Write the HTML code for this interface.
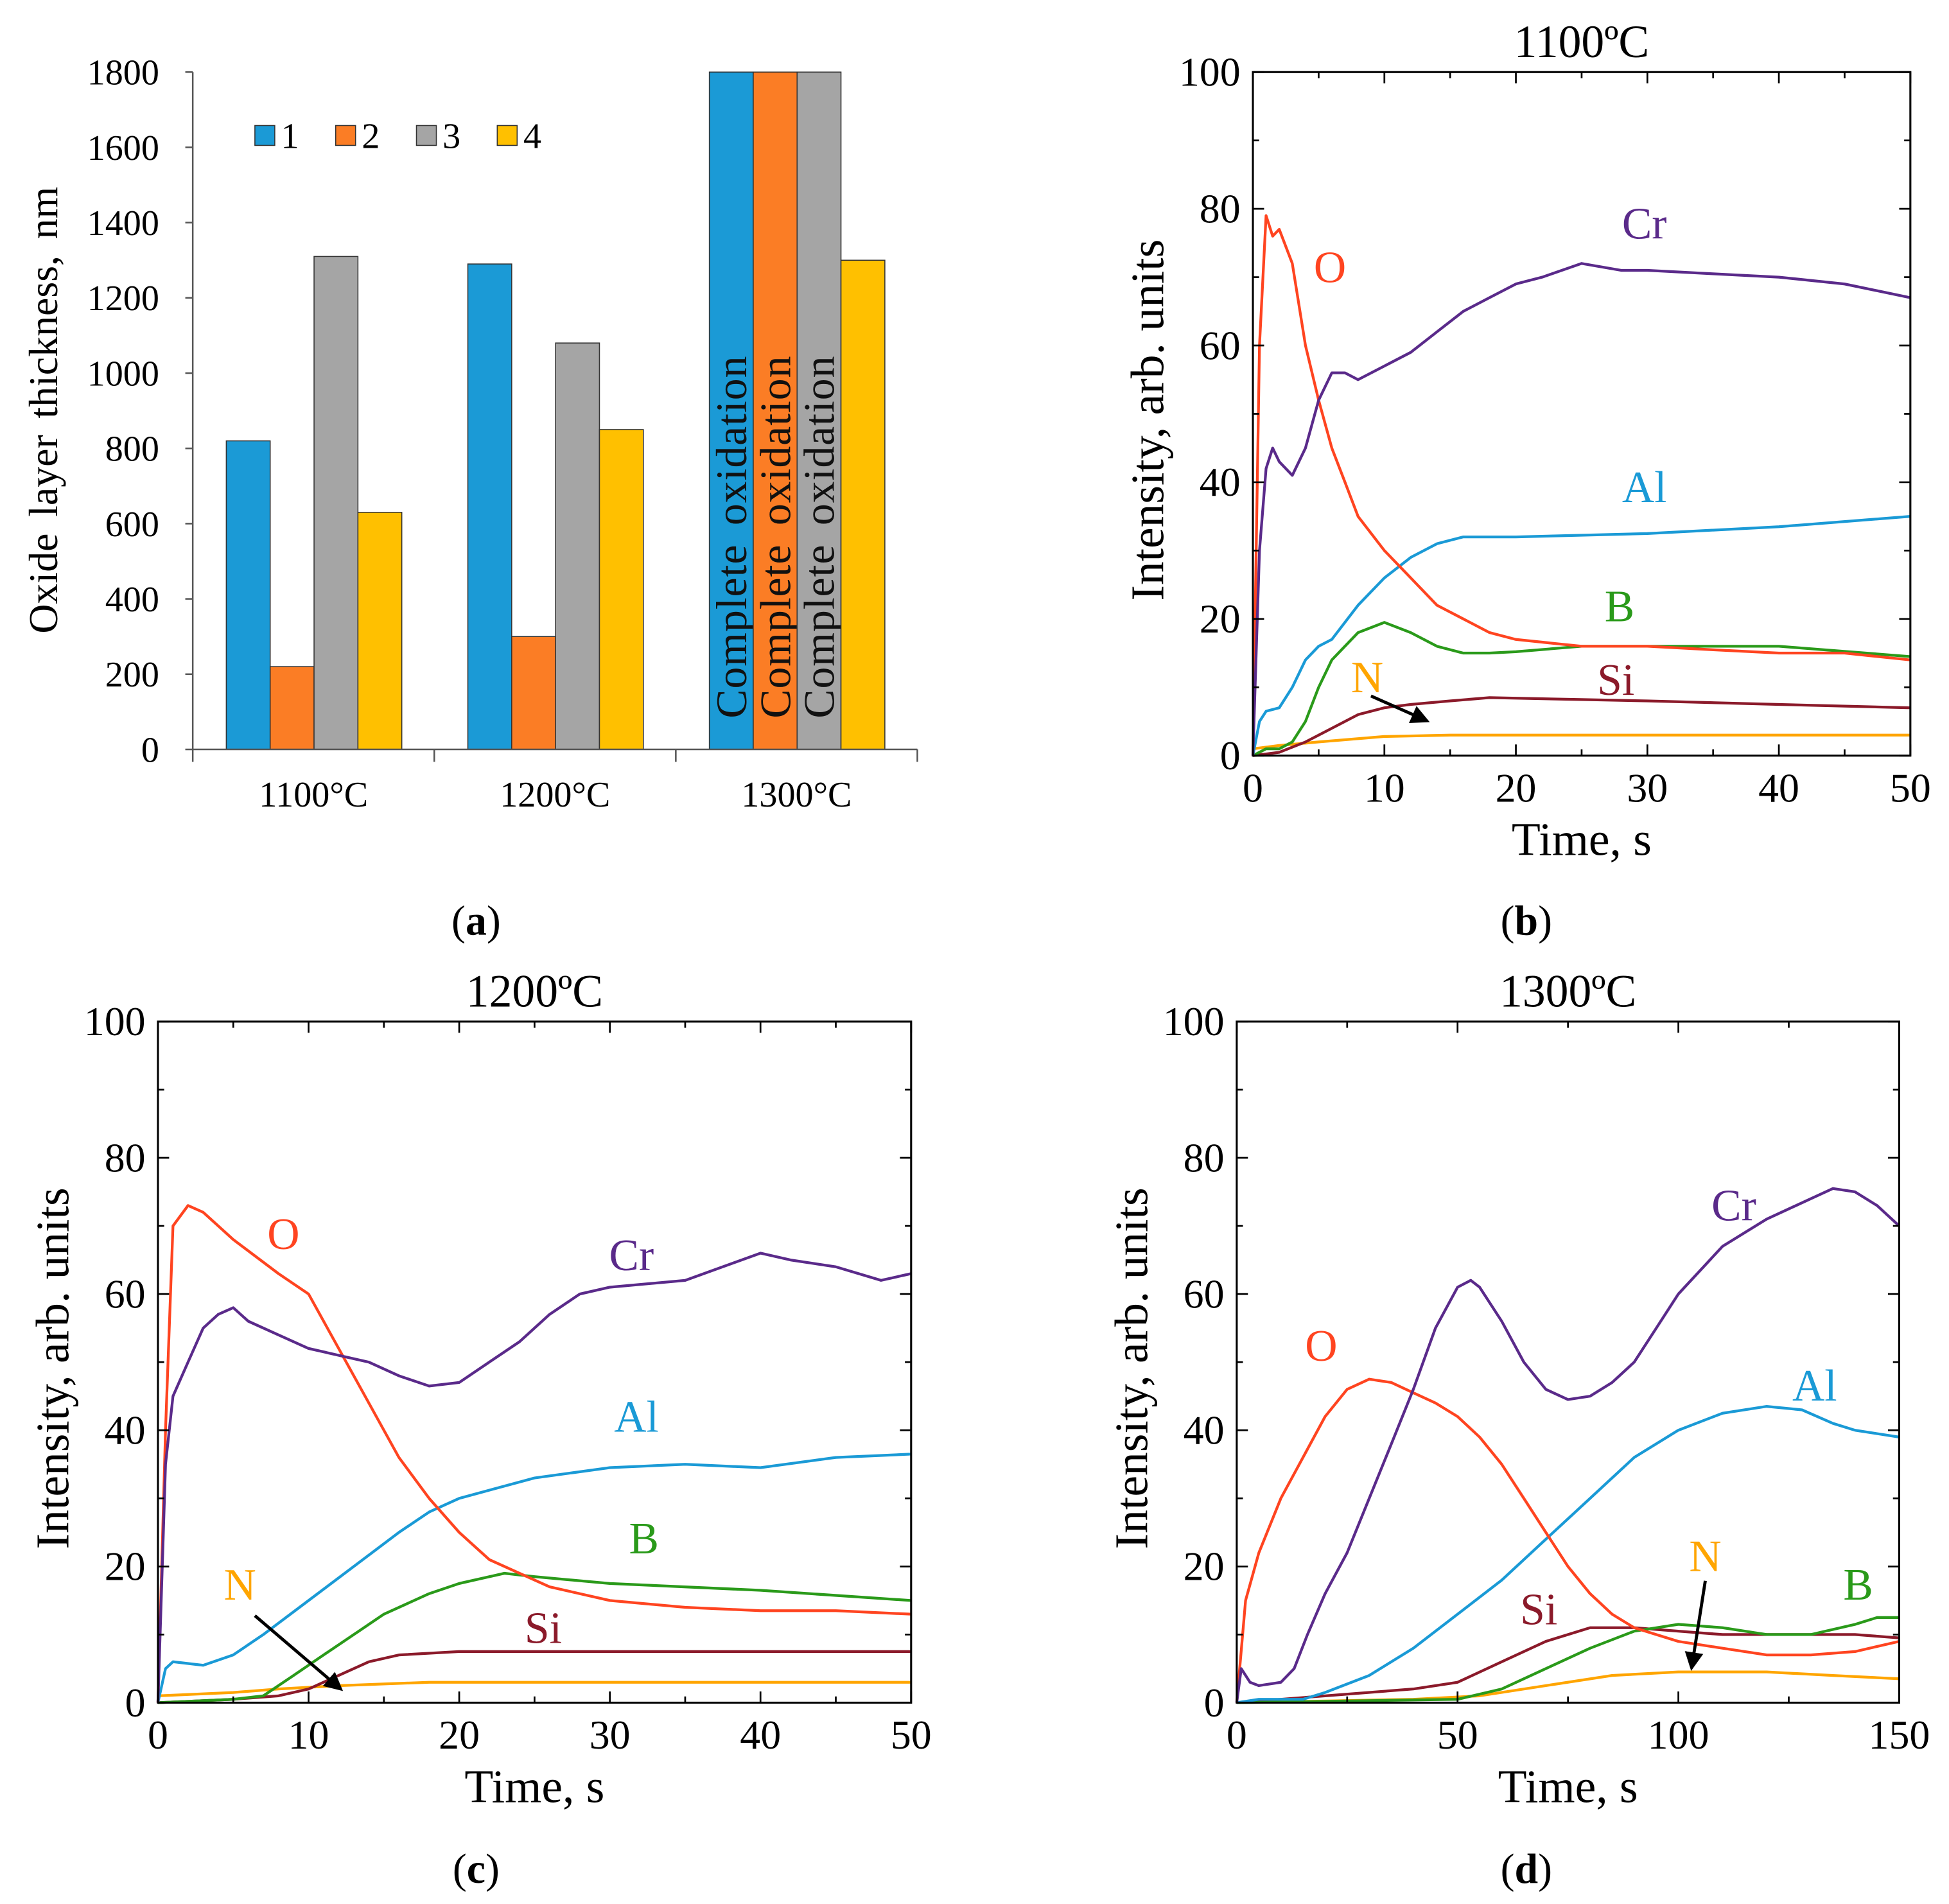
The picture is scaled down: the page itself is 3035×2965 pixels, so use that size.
<!DOCTYPE html>
<html><head><meta charset="utf-8"><style>
html,body{margin:0;padding:0;background:#fff;}
svg{display:block;font-family:"Liberation Serif",serif;}
</style></head><body>
<svg id="fig" width="3035" height="2965" viewBox="0 0 1568 1532" xmlns="http://www.w3.org/2000/svg"></svg>
<script>
// ---- Panel (a) data ----
const barCategories = ["1100°C","1200°C","1300°C"];
const barSeriesNames = ["1","2","3","4"];
const barValues = [[820,220,1310,630],[1290,300,1080,850],[1800,1800,1800,1300]];
const barYTicks = [0,200,400,600,800,1000,1200,1400,1600,1800];
const barNotes = [[null,null,null,null],[null,null,null,null],["Complete oxidation","Complete oxidation","Complete oxidation",null]];

// ---- Line panels data ----
const seriesNames = ["O","Cr","Al","B","Si","N"];
const b_O=[[0,0],[0.5,60],[1,79],[1.5,76],[2,77],[3,72],[4,60],[5,52],[6,45],[7,40],[8,35],[10,30],[12,26],[14,22],[16,20],[18,18],[20,17],[25,16],[30,16],[35,15.5],[40,15],[45,15],[50,14]];
const b_Cr=[[0,0],[0.5,30],[1,42],[1.5,45],[2,43],[3,41],[4,45],[5,52],[6,56],[7,56],[8,55],[9,56],[10,57],[12,59],[14,62],[16,65],[18,67],[20,69],[22,70],[25,72],[28,71],[30,71],[35,70.5],[40,70],[45,69],[50,67]];
const b_Al=[[0,0],[0.5,5],[1,6.5],[2,7],[3,10],[4,14],[5,16],[6,17],[8,22],[10,26],[12,29],[14,31],[16,32],[20,32],[30,32.5],[40,33.5],[50,35]];
const b_B=[[0,0],[1,1],[2,1],[3,2],[4,5],[5,10],[6,14],[8,18],[10,19.5],[12,18],[14,16],[16,15],[18,15],[20,15.2],[25,16],[30,16],[40,16],[50,14.5]];
const b_Si=[[0,0],[2,0.5],[4,2],[6,4],[8,6],[10,7],[12,7.5],[15,8],[18,8.5],[25,8.2],[30,8],[40,7.5],[50,7]];
const b_N=[[0,1],[2,1.5],[5,2],[10,2.8],[15,3],[20,3],[50,3]];

const c_O=[[0,0],[0.5,40],[1,70],[2,73],[3,72],[5,68],[8,63],[10,60],[12,52],[14,44],[16,36],[18,30],[20,25],[22,21],[24,19],[26,17],[30,15],[35,14],[40,13.5],[45,13.5],[50,13]];
const c_Cr=[[0,0],[0.5,35],[1,45],[2,50],[3,55],[4,57],[5,58],[6,56],[8,54],[10,52],[12,51],[14,50],[16,48],[18,46.5],[20,47],[22,50],[24,53],[26,57],[28,60],[30,61],[35,62],[40,66],[42,65],[45,64],[48,62],[50,63]];
const c_Al=[[0,0],[0.5,5],[1,6],[3,5.5],[5,7],[7,10],[10,15],[13,20],[16,25],[18,28],[20,30],[25,33],[30,34.5],[35,35],[40,34.5],[45,36],[50,36.5]];
const c_B=[[0,0],[5,0.5],[7,1],[9,4],[11,7],[13,10],[15,13],[18,16],[20,17.5],[23,19],[25,18.5],[30,17.5],[40,16.5],[50,15]];
const c_Si=[[0,0],[5,0.5],[8,1],[10,2],[12,4],[14,6],[16,7],[20,7.5],[30,7.5],[40,7.5],[50,7.5]];
const c_N=[[0,1],[5,1.5],[8,2],[12,2.5],[18,3],[30,3],[50,3]];

const d_O=[[0,0],[2,15],[5,22],[10,30],[15,36],[20,42],[25,46],[30,47.5],[35,47],[40,45.5],[45,44],[50,42],[55,39],[60,35],[65,30],[70,25],[75,20],[80,16],[85,13],[90,11],[100,9],[110,8],[120,7],[130,7],[140,7.5],[150,9]];
const d_Cr=[[0,0],[1,5],[3,3],[5,2.5],[10,3],[13,5],[16,10],[20,16],[25,22],[30,30],[35,38],[40,46],[45,55],[50,61],[53,62],[55,61],[60,56],[65,50],[70,46],[75,44.5],[80,45],[85,47],[90,50],[95,55],[100,60],[110,67],[120,71],[130,74],[135,75.5],[140,75],[145,73],[150,70]];
const d_Al=[[0,0],[5,0.5],[15,0.5],[20,1.5],[30,4],[40,8],[50,13],[60,18],[70,24],[80,30],[90,36],[100,40],[110,42.5],[120,43.5],[128,43],[135,41],[140,40],[150,39]];
const d_B=[[0,0],[50,0.5],[60,2],[70,5],[80,8],[90,10.5],[100,11.5],[110,11],[120,10],[130,10],[140,11.5],[145,12.5],[150,12.5]];
const d_Si=[[0,0],[10,0.5],[20,1],[40,2],[50,3],[60,6],[70,9],[80,11],[90,11],[100,10.5],[110,10],[120,10],[130,10],[140,10],[150,9.5]];
const d_N=[[0,0],[40,0.5],[55,1],[70,2.5],[85,4],[100,4.5],[120,4.5],[135,4],[150,3.5]];

const yTicksLine=[0,20,40,60,80,100];
const xTicksB=[0,10,20,30,40,50];
const xTicksD=[0,50,100,150];

const NS="http://www.w3.org/2000/svg";
const svg=document.getElementById('fig');
function el(tag,attrs,parent,text){const e=document.createElementNS(NS,tag);for(const k in attrs)e.setAttribute(k,attrs[k]);if(text!==undefined)e.textContent=text;(parent||svg).appendChild(e);return e;}

// ---------- Panel (a) ----------
const ga=el('g',{});


const aX0=155,aX1=738,aY0=603,aY1=58;
const ya=v=>aY0-(v/1800)*(aY0-aY1);
const barColors=["#1b9ad6","#fb7d25","#a5a5a5","#ffc000"];
const groupW=(aX1-aX0)/barCategories.length, barW=35.3;
barCategories.forEach((cat,gi)=>{
  const gx=aX0+gi*groupW+27;
  barValues[gi].forEach((v,si)=>{
    const r=el('rect',{x:gx+si*barW,y:ya(v),width:barW,height:aY0-ya(v),fill:barColors[si],stroke:"#333","stroke-width":0.8},ga);
    
    
    const note=barNotes[gi][si];
    if(note){const cx=gx+si*barW+barW/2+12;
      const t=el('text',{x:cx,y:aY0-25,transform:`rotate(-90 ${cx} ${aY0-25})`,'font-size':35,'letter-spacing':0.5,'word-spacing':6,fill:'#111'},ga,note);
      
      }
  });
  const t=el('text',{x:aX0+gi*groupW+groupW/2,y:649,'text-anchor':'middle','font-size':29},ga,cat);
  
  
});
el('line',{x1:aX0,y1:aY1,x2:aX0,y2:aY0,stroke:'#555','stroke-width':1.3},ga);
el('line',{x1:aX0,y1:aY0,x2:aX1,y2:aY0,stroke:'#555','stroke-width':1.3},ga);
for(let i=0;i<=3;i++)el('line',{x1:aX0+i*groupW,y1:aY0,x2:aX0+i*groupW,y2:aY0+10,stroke:'#555','stroke-width':1.3},ga);
barYTicks.forEach(v=>{
  el('line',{x1:aX0-6,y1:ya(v),x2:aX0,y2:ya(v),stroke:'#555','stroke-width':1.3},ga);
  const t=el('text',{x:128,y:ya(v)+10,'text-anchor':'end','font-size':29},ga,v);
  
  
});
const yat=el('text',{x:46,y:330,transform:'rotate(-90 46 330)','text-anchor':'middle','font-size':33,'word-spacing':5},ga,'Oxide layer thickness, nm');


barSeriesNames.forEach((n,i)=>{
  const lx=205+i*65;
  const r=el('rect',{x:lx,y:101,width:16,height:16,fill:barColors[i],stroke:'#333','stroke-width':0.8},ga);
  
  
  const t=el('text',{x:lx+21,y:119,'font-size':29},ga,n);
  
  
});
const la=el('text',{x:383,y:752,'text-anchor':'middle','font-size':34},ga);
la.innerHTML='(<tspan font-weight="bold">a</tspan>)';



// ---------- Line panels ----------
const colors={O:"#ff4420",Cr:"#5a2a8a",Al:"#1a9ad6",B:"#2a9a1a",Si:"#8b1a2a",N:"#ffa500"};
function linePanel(cfg){
  const g=el('g',{});
  
  
  const {x0,x1,y0,y1,xmax,xticks}=cfg;
  const sx=v=>x0+v/xmax*(x1-x0), sy=v=>y0-v/100*(y0-y1);
  const series={O:cfg.O,Cr:cfg.Cr,Al:cfg.Al,B:cfg.B,Si:cfg.Si,N:cfg.N};
  ["N","Si","B","Al","O","Cr"].forEach(n=>{
    const d=series[n].map((p,i)=>(i?'L':'M')+sx(p[0]).toFixed(1)+','+sy(p[1]).toFixed(1)).join('');
    const p=el('path',{d:d,fill:'none',stroke:colors[n],'stroke-width':2.2,'stroke-linejoin':'round'},g);
    
    
  });
  el('rect',{x:x0,y:y1,width:x1-x0,height:y0-y1,fill:'none',stroke:'#000','stroke-width':1.6},g);
  for(let v=0;v<=100;v+=10){const L=v%20===0?9:5;
    el('line',{x1:x0,y1:sy(v),x2:x0+L,y2:sy(v),stroke:'#000','stroke-width':1.4},g);
    el('line',{x1:x1,y1:sy(v),x2:x1-L,y2:sy(v),stroke:'#000','stroke-width':1.4},g);}
  const minorStep=(xticks[1]-xticks[0])/2;
  for(let v=0;v<=xmax+0.01;v+=minorStep){const L=(Math.abs(v/(minorStep*2)-Math.round(v/(minorStep*2)))<0.01)?9:5;
    el('line',{x1:sx(v),y1:y0,x2:sx(v),y2:y0-L,stroke:'#000','stroke-width':1.4},g);
    el('line',{x1:sx(v),y1:y1,x2:sx(v),y2:y1+L,stroke:'#000','stroke-width':1.4},g);}
  yTicksLine.forEach(v=>{const t=el('text',{x:x0-10,y:sy(v)+11,'text-anchor':'end','font-size':33},g,v);
    
    });
  xticks.forEach(v=>{const t=el('text',{x:sx(v),y:y0+37,'text-anchor':'middle','font-size':33},g,v);
    
    });
  const tt=el('text',{x:(x0+x1)/2,y:y1-12,'text-anchor':'middle','font-size':37},g,cfg.title);
  
  
  const xt=el('text',{x:(x0+x1)/2,y:y0+80,'text-anchor':'middle','font-size':38},g,'Time, s');
  
  
  const yx=x0-72, yc=(y0+y1)/2+5;
  const yt=el('text',{x:yx,y:yc,transform:`rotate(-90 ${yx} ${yc})`,'text-anchor':'middle','font-size':38},g,'Intensity, arb. units');
  
  
  for(const n in cfg.labels){const [lx,ly]=cfg.labels[n];
    const t=el('text',{x:lx,y:ly,'text-anchor':'middle','font-size':36,fill:colors[n]},g,n);
    
    }
  const a=cfg.arrow;
  const ar=el('line',{x1:a[0],y1:a[1],x2:a[2],y2:a[3],stroke:'#000','stroke-width':2.5,'marker-end':'url(#ah)'},g);
  
  
  const pl=el('text',{x:cfg.pl[0],y:cfg.pl[1],'text-anchor':'middle','font-size':34},g);
  pl.innerHTML='(<tspan font-weight="bold">'+cfg.id+'</tspan>)';
  
  
}
const defs=el('defs',{});
const mk=el('marker',{id:'ah',markerWidth:6,markerHeight:6,refX:5,refY:3,orient:'auto',markerUnits:'strokeWidth'},defs);
el('path',{d:'M0,0L6,3L0,6Z',fill:'#000'},mk);

linePanel({id:'b',x0:1008,x1:1537,y0:608,y1:58,xmax:50,xticks:xTicksB,title:'1100ºC',O:b_O,Cr:b_Cr,Al:b_Al,B:b_B,Si:b_Si,N:b_N,
 labels:{O:[1070,227],Cr:[1323,192],Al:[1323,404],B:[1303,500],N:[1100,557],Si:[1300,559]},arrow:[1103,560,1148,580],pl:[1228,752]});
linePanel({id:'c',x0:127,x1:733,y0:1370,y1:822,xmax:50,xticks:xTicksB,title:'1200ºC',O:c_O,Cr:c_Cr,Al:c_Al,B:c_B,Si:c_Si,N:c_N,
 labels:{O:[228,1005],Cr:[508,1022],Al:[512,1152],B:[518,1250],N:[193,1287],Si:[437,1322]},arrow:[205,1300,274,1359],pl:[383,1515]});
linePanel({id:'d',x0:995,x1:1528,y0:1370,y1:822,xmax:150,xticks:xTicksD,title:'1300ºC',O:d_O,Cr:d_Cr,Al:d_Al,B:d_B,Si:d_Si,N:d_N,
 labels:{O:[1063,1095],Cr:[1395,982],Al:[1460,1127],N:[1372,1264],B:[1495,1287],Si:[1238,1307]},arrow:[1372,1272,1361,1342],pl:[1228,1515]});
</script>
</body></html>
